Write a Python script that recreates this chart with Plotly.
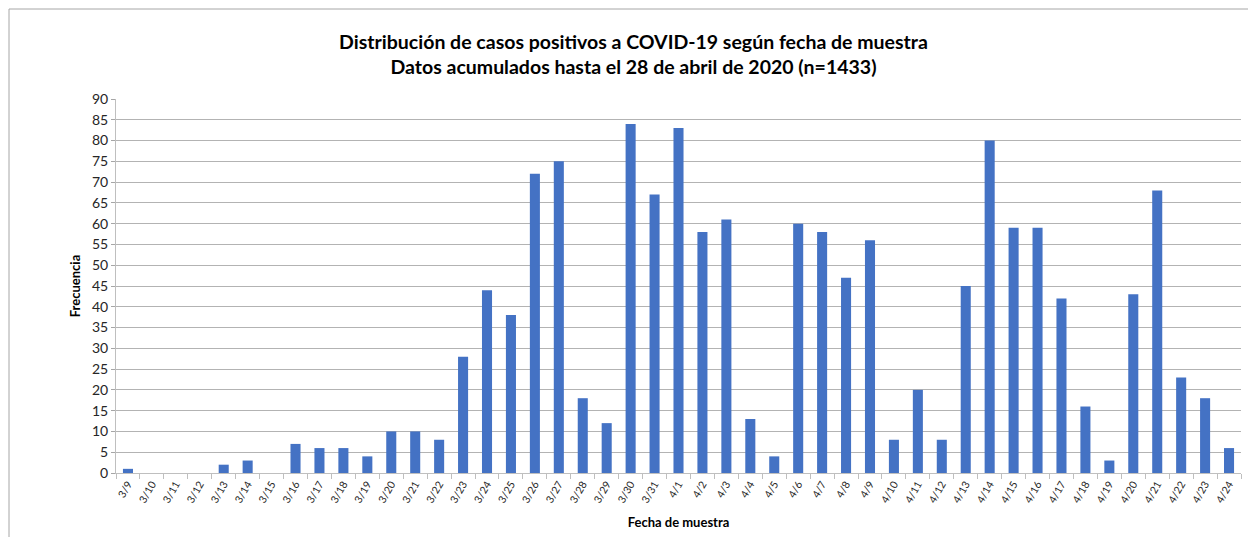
import plotly.graph_objects as go

fechas = ['3/9', '3/10', '3/11', '3/12', '3/13', '3/14', '3/15', '3/16', '3/17', '3/18',
          '3/19', '3/20', '3/21', '3/22', '3/23', '3/24', '3/25', '3/26', '3/27', '3/28',
          '3/29', '3/30', '3/31', '4/1', '4/2', '4/3', '4/4', '4/5', '4/6', '4/7',
          '4/8', '4/9', '4/10', '4/11', '4/12', '4/13', '4/14', '4/15', '4/16', '4/17',
          '4/18', '4/19', '4/20', '4/21', '4/22', '4/23', '4/24']
casos = [1, 0, 0, 0, 2, 3, 0, 7, 6, 6,
         4, 10, 10, 8, 28, 44, 38, 72, 75, 18,
         12, 84, 67, 83, 58, 61, 13, 4, 60, 58,
         47, 56, 8, 20, 8, 45, 80, 59, 59, 42,
         16, 3, 43, 68, 23, 18, 6]
y_ticks = list(range(0, 95, 5))

font = "Lato, 'Open Sans', sans-serif"

fig = go.Figure(go.Bar(x=fechas, y=casos, marker=dict(color='#4472c4', line=dict(width=0))))

# page body has an 8px margin, so the figure is a bit smaller than the window
fig.update_layout(
    width=1248, height=529,
    margin=dict(l=108, r=15, t=91, b=64, autoexpand=False),
    plot_bgcolor='white', paper_bgcolor='white',
    bargap=0.58,
    showlegend=False,
    font=dict(family=font, color='#262626'),
    title=dict(
        text="<b>Distribución de casos positivos a COVID-19 según fecha de muestra<br>"
             "Datos acumulados hasta el 28 de abril de 2020 (n=1433)</b>",
        x=0.5012, xanchor='center', y=0.9225, yanchor='middle',
        font=dict(size=19.5, family=font, color='#000000'),
    ),
)

fig.update_xaxes(
    type='category', automargin=False,
    tickangle=-60,
    tickfont=dict(size=10.5),
    ticks='outside', tickson='boundaries', ticklen=5, tickcolor='#bfbfbf',
    showline=True, linecolor='#bfbfbf', linewidth=1,
    showgrid=False,
    title=dict(text='<b>Fecha de muestra</b>', font=dict(size=13, color='#000000'), standoff=13),
)
fig.update_yaxes(
    range=[0, 90], tickvals=y_ticks, automargin=False,
    tickfont=dict(size=14),
    ticks='outside', ticklen=4, tickcolor='#a6a6a6',
    showline=True, linecolor='#bfbfbf', linewidth=1,
    showgrid=True, gridcolor='#b3b3b3', gridwidth=1,
    zeroline=False,
    title=dict(text='<b>Frecuencia</b>', font=dict(size=13, color='#000000'), standoff=8),
)

# Excel-style chart border (left and top edges)
fig.add_shape(type='rect', xref='paper', yref='paper',
              x0=-0.0951, x1=1.05, y0=-0.3, y1=1.2406,
              line=dict(color='#a6a6a6', width=1), fillcolor='rgba(0,0,0,0)', layer='below')

fig.write_html("out.html")
